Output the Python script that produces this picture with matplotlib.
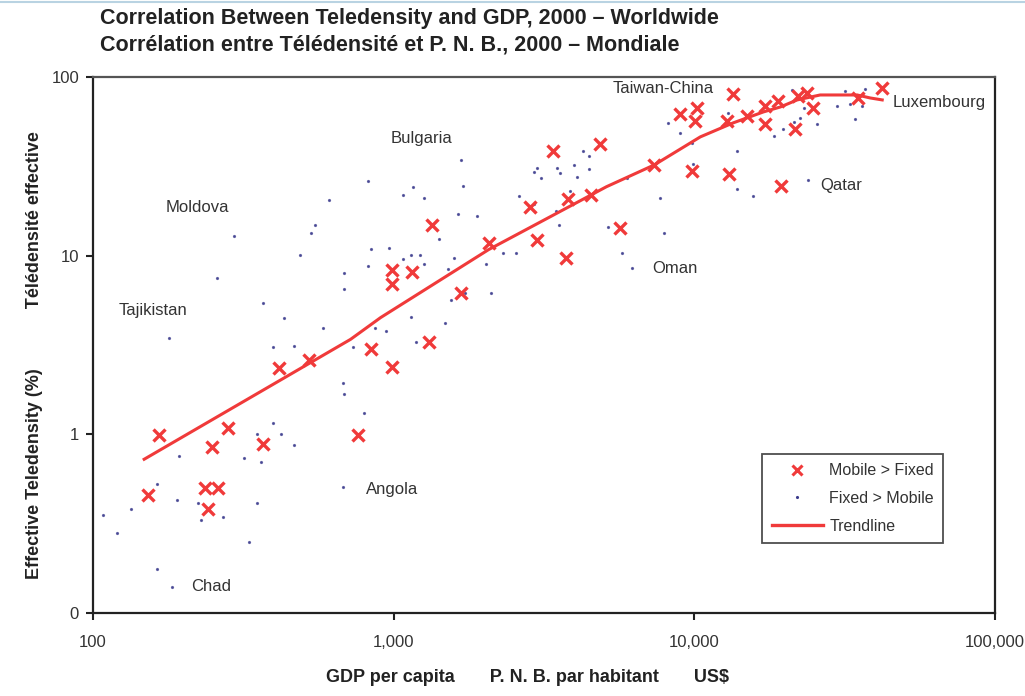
import matplotlib
matplotlib.use("Agg")
import matplotlib.pyplot as plt
from matplotlib.lines import Line2D

plt.rcParams['font.family'] = ['Liberation Sans', 'DejaVu Sans']

# Mobile > Fixed (red crosses): GDP per capita (US$), effective teledensity (%)
mobile_gdp = [152, 166, 248, 236, 260, 241, 281, 367, 415, 522, 759, 839, 985, 985,
              985, 1148, 1307, 1337, 1670, 2069, 2851, 3009, 3756, 3401, 3815, 4545,
              4873, 5677, 7362, 8984, 10230, 10070, 9846, 12870, 13480, 13070, 15000,
              17220, 17220, 19010, 22160, 23720, 24850, 21650, 19450, 35070, 42130]
mobile_tele = [0.46, 0.99, 0.85, 0.50, 0.50, 0.38, 1.08, 0.88, 2.34, 2.59, 0.99, 3.02,
               2.37, 8.35, 6.98, 8.15, 3.27, 14.9, 6.21, 11.8, 18.8, 12.3, 9.75, 38.6,
               20.8, 21.9, 42.3, 14.3, 32.2, 62.1, 67.1, 56.8, 29.9, 56.8, 80.4, 28.7,
               60.5, 68.9, 54.6, 73.5, 78.3, 81.5, 67.1, 51.2, 24.6, 76.4, 86.9]

# Fixed > Mobile (small dots)
fixed_gdp = [108, 120, 134, 163, 163, 183, 190, 193, 223, 228, 270, 330, 351, 318, 351,
             396, 361, 421, 465, 396, 465, 677, 682, 795, 677, 731,
             820, 608, 546, 530, 294, 487, 839, 962, 820, 682, 682, 258, 367, 431,
             581, 865, 940, 179,
             1670, 1695, 1157, 1071, 1259, 1632, 1887, 1411, 1071, 1139, 1220, 1259,
             1582, 1511, 2021, 2302, 2543, 1722, 2100, 1547, 1139, 1477, 1184, 2602,
             2940, 3009, 3101, 3507, 3588, 3993, 4086, 4278, 4479, 4479, 3873, 3561,
             5179, 5765, 6223, 7709, 7947, 5987, 8197, 8984, 9846, 9924, 2919, 3479,
             13900, 13900, 12970, 21170, 31740, 36980, 23190, 29860, 32980, 36150,
             22510, 21480, 19750, 25620, 34280, 18450, 15700, 23920]
fixed_tele = [0.353, 0.28, 0.38, 0.53, 0.176, 0.14, 0.43, 0.76, 0.41, 0.33, 0.344, 0.249,
              0.41, 0.74, 1.01, 1.15, 0.70, 1.0, 0.87, 3.10, 3.14, 1.93, 1.69, 1.31,
              0.51, 3.10,
              26.2, 20.6, 14.9, 13.4, 12.9, 10.1, 10.9, 11.1, 8.79, 8.03, 6.54, 7.53,
              5.46, 4.45, 3.96, 3.96, 3.81, 3.48,
              34.4, 24.6, 24.3, 21.9, 21.1, 17.2, 16.7, 12.4, 9.62, 10.1, 10.1, 9.02,
              9.75, 8.45, 9.02, 10.3, 10.3, 6.14, 6.21, 5.61, 4.56, 4.22, 3.27, 21.6,
              29.4, 31.0, 27.3, 31.0, 29.1, 32.2, 27.6, 38.6, 36.2, 30.6, 23.1, 14.9,
              14.5, 10.4, 8.57, 21.1, 13.4, 27.3, 55.3, 48.6, 42.8, 32.7, 19.5, 17.8,
              38.6, 23.6, 62.9, 84.5, 83.5, 85.7, 67.1, 68.9, 70.7, 68.9,
              59.0, 56.1, 51.2, 54.6, 58.2, 46.8, 21.6, 26.6]

# trendline
trend_gdp = [148, 719, 905, 2068, 4545, 5101, 7362, 10470, 13490, 16960, 19310,
             21990, 26220, 34810, 38470, 42170]
trend_tele = [0.725, 3.40, 4.50, 10.8, 21.9, 24.3, 32.2, 46.2, 55.4, 63.7, 67.9,
              74.4, 79.3, 79.3, 76.3, 74.4]

# country labels (text, gdp, teledensity at left/middle of label)
label_names = ['Moldova', 'Tajikistan', 'Chad', 'Angola', 'Bulgaria', 'Oman',
               'Qatar', 'Taiwan-China', 'Luxembourg']
label_gdp = [175, 122, 212, 807, 977, 7248, 26220, 5342, 45830]
label_tele = [18.5, 4.93, 0.14, 0.49, 45.1, 8.45, 24.6, 85.7, 72.4]

x_ticks = [100, 1000, 10000, 100000]
x_ticklabels = ['100', '1,000', '10,000', '100,000']
y_ticks = [0.1, 1, 10, 100]
y_ticklabels = ['0', '1', '10', '100']

red = '#f03a3a'
navy = '#3a3a8c'

fig = plt.figure(figsize=(10.25, 6.96), dpi=100)
ax = fig.add_axes([0.0907, 0.1193, 0.88, 0.7701])

ax.plot(fixed_gdp, fixed_tele, linestyle='none', marker='.', markersize=2.6,
        color=navy, alpha=0.75, label='Fixed > Mobile', zorder=2)
ax.plot(mobile_gdp, mobile_tele, linestyle='none', marker='x', markersize=8,
        markeredgewidth=2.4, color=red, label='Mobile > Fixed', zorder=3)
ax.plot(trend_gdp, trend_tele, color=red, linewidth=2.2, label='Trendline', zorder=4)

ax.set_xscale('log')
ax.set_yscale('log')
ax.set_xlim(100, 100000)
ax.set_ylim(0.1, 100)
ax.set_xticks(x_ticks)
ax.set_xticklabels(x_ticklabels)
ax.set_yticks(y_ticks)
ax.set_yticklabels(y_ticklabels)
ax.minorticks_off()
ax.tick_params(axis='both', direction='out', length=5, width=1.5, color='#222222',
               labelsize=12, labelcolor='#333333')
ax.tick_params(axis='x', pad=11)
ax.tick_params(axis='y', pad=5)
for side in ['left', 'bottom', 'right', 'top']:
    ax.spines[side].set_linewidth(1.6)
    ax.spines[side].set_color('#222222')
ax.spines['top'].set_color('#555555')

for name, gx, ty in zip(label_names, label_gdp, label_tele):
    ax.text(gx, ty, name, fontsize=12, color='#333333', ha='left', va='center')

handles = [Line2D([], [], linestyle='none', marker='x', markersize=7, markeredgewidth=2.2, color=red),
           Line2D([], [], linestyle='none', marker='.', markersize=2.5, color=navy),
           Line2D([], [], color=red, linewidth=2.4)]
leg = ax.legend(handles, ['Mobile > Fixed', 'Fixed > Mobile', 'Trendline'],
                loc='upper left', bbox_to_anchor=(0.733, 0.312), fontsize=11.5,
                frameon=True, fancybox=False, handlelength=3.2, labelspacing=0.8,
                borderpad=0.6, handletextpad=0.4)
leg.get_frame().set_edgecolor('#222222')
leg.get_frame().set_linewidth(1.3)
for t in leg.get_texts():
    t.set_color('#333333')

fig.text(0.0976, 0.974, 'Correlation Between Teledensity and GDP, 2000 \u2013 Worldwide',
         fontsize=15.5, fontweight='bold', color='#222222', ha='left', va='center')
fig.text(0.0976, 0.935, 'Corr\u00e9lation entre T\u00e9l\u00e9densit\u00e9 et P. N. B., 2000 \u2013 Mondiale',
         fontsize=15.5, fontweight='bold', color='#222222', ha='left', va='center')

fig.text(0.515, 0.026, 'GDP per capita       P. N. B. par habitant       US$',
         fontsize=13, fontweight='bold', color='#222222', ha='center', va='center')
fig.text(0.034, 0.49, 'Effective Teledensity (%)            T\u00e9l\u00e9densit\u00e9 effective',
         fontsize=13, fontweight='bold', color='#222222', ha='center', va='center',
         rotation=90)

fig.add_artist(Line2D([0, 1], [0.997, 0.997], color='#b9d3e2', linewidth=1.5))

fig.savefig('out.png', dpi=100, facecolor='white')
